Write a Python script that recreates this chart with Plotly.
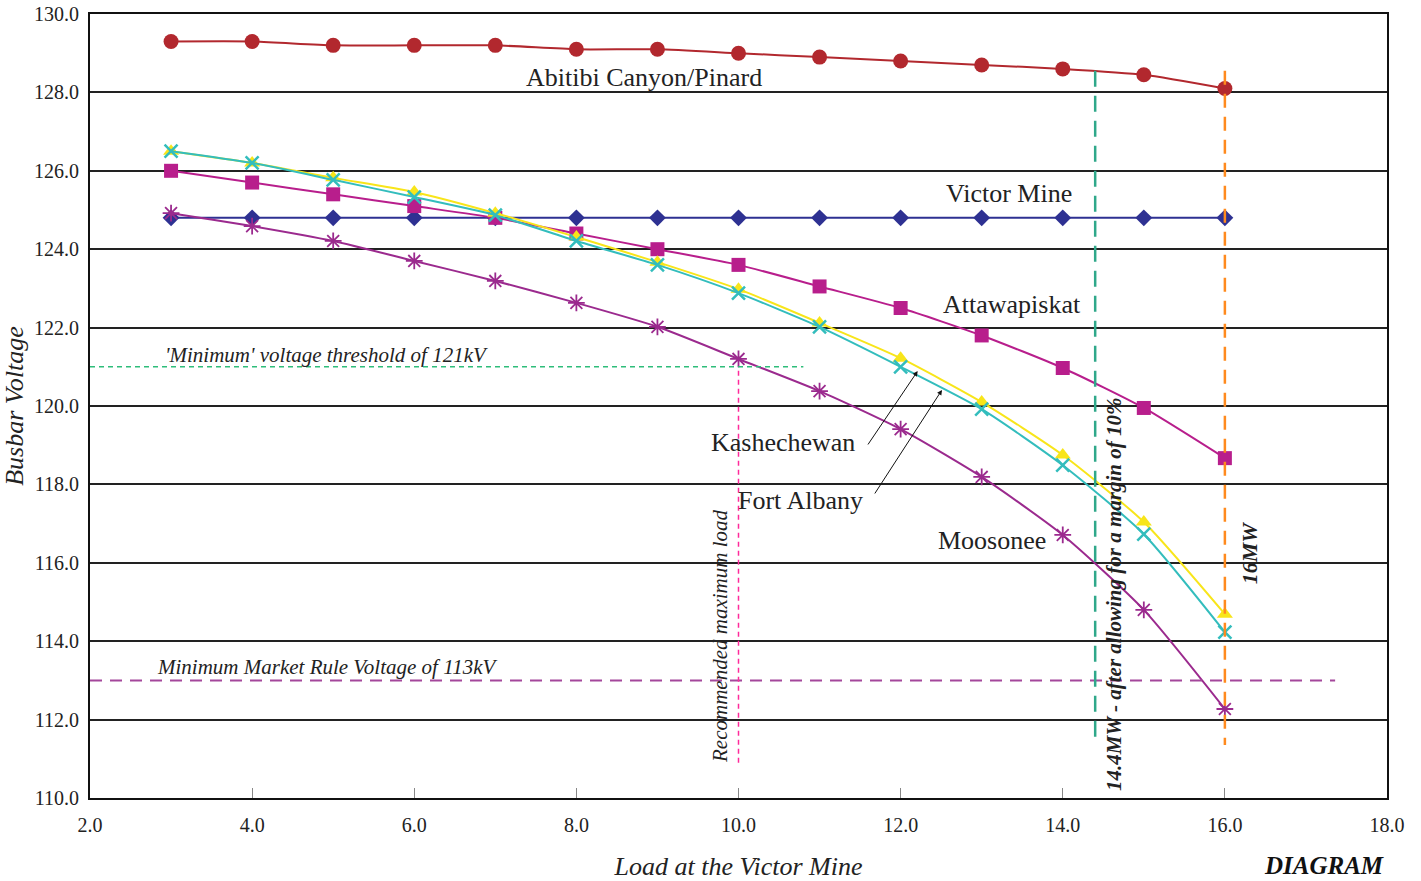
import plotly.graph_objects as go

load_mw = [3, 4, 5, 6, 7, 8, 9, 10, 11, 12, 13, 14, 15, 16]
abitibi = [129.3, 129.3, 129.2, 129.2, 129.2, 129.1, 129.1, 129.0, 128.9, 128.8, 128.7, 128.6, 128.45, 128.1]
victor = [124.8] * 14
attawapiskat = [126.0, 125.7, 125.4, 125.1, 124.8, 124.4, 124.0, 123.6, 123.05, 122.5, 121.8, 120.97, 119.95, 118.67]
kashechewan = [126.5, 126.2, 125.82, 125.46, 124.92, 124.31, 123.67, 122.98, 122.12, 121.22, 120.1, 118.75, 117.04, 114.69]
fort_albany = [126.5, 126.2, 125.77, 125.33, 124.87, 124.21, 123.6, 122.88, 122.02, 121.0, 119.92, 118.49, 116.73, 114.23]
moosonee = [124.92, 124.59, 124.21, 123.7, 123.19, 122.63, 122.02, 121.2, 120.38, 119.41, 118.19, 116.71, 114.8, 112.27]

x_ticks = [2, 4, 6, 8, 10, 12, 14, 16, 18]
y_ticks = [110, 112, 114, 116, 118, 120, 122, 124, 126, 128, 130]

FONT = "Liberation Serif"

series = [
    (abitibi, "Abitibi Canyon/Pinard", "#b2282e", "circle", 15, 0),
    (victor, "Victor Mine", "#2e3192", "diamond", 13, 0),
    (attawapiskat, "Attawapiskat", "#b81e8c", "square", 14, 0),
    (kashechewan, "Kashechewan", "#f8e51a", "triangle-up", 14, 0),
    (fort_albany, "Fort Albany", "#33bdbd", "x-thin-open", 13, 2.5),
    (moosonee, "Moosonee", "#9b2a8e", "asterisk-open", 14, 1.8),
]

fig = go.Figure()
for ys, name, color, sym, size, lw in series:
    marker = dict(symbol=sym, size=size, color=color)
    if lw:
        marker["line"] = dict(color=color, width=lw)
    fig.add_trace(go.Scatter(
        x=load_mw, y=ys, name=name, mode="lines+markers",
        line=dict(color=color, width=2, shape="spline", smoothing=0.6),
        marker=marker, showlegend=False,
    ))

shapes = [
    dict(type="line", x0=2, x1=10.8, y0=121, y1=121, line=dict(color="#2ebd7a", width=1.5, dash="5px,4px")),
    dict(type="line", x0=2, x1=17.36, y0=113, y1=113, line=dict(color="#a4479b", width=2, dash="12px,8px")),
    dict(type="line", x0=10, x1=10, y0=120.9, y1=110.8, line=dict(color="#ff2a9a", width=1.5, dash="5px,4px")),
    dict(type="line", x0=14.4, x1=14.4, y0=128.55, y1=111.35, line=dict(color="#2fa88a", width=2.5, dash="16px,9px")),
    dict(type="line", x0=16, x1=16, y0=128.55, y1=111.35, line=dict(color="#ff8a1e", width=2.5, dash="14px,9px")),
]

ann = []
def label(x, y, text, size=26, **kw):
    d = dict(x=x, y=y, text=text, showarrow=False, xref="x", yref="y",
             font=dict(family=FONT, size=size, color="#222"))
    d.update(kw)
    ann.append(d)

label(8.83, 128.39, "Abitibi Canyon/Pinard")
label(13.34, 125.43, "Victor Mine")
label(13.37, 122.58, "Attawapiskat")
label(10.55, 119.06, "Kashechewan")
label(10.77, 117.58, "Fort Albany")
label(13.13, 116.58, "Moosonee")
label(2.9, 121.3, "<i>'Minimum' voltage threshold of 121kV</i>", size=21, xanchor="left")
label(2.8, 113.35, "<i>Minimum Market Rule Voltage of 113kV</i>", size=21, xanchor="left")
label(9.77, 114.13, "<i>Recommended maximum load</i>", size=21, textangle=-90)
label(14.63, 115.2, "<b><i>14.4MW - after allowing for a margin of 10%</i></b>", size=21, textangle=-90)
label(16.3, 116.25, "<b><i>16MW</i></b>", size=22, textangle=-90)

# arrows from labels to curves
ann.append(dict(x=12.21, y=120.89, ax=11.585, ay=118.98, xref="x", yref="y", axref="x", ayref="y",
                showarrow=True, arrowhead=2, arrowsize=1, arrowwidth=1, arrowcolor="#111", text=""))
ann.append(dict(x=12.51, y=120.41, ax=11.67, ay=117.73, xref="x", yref="y", axref="x", ayref="y",
                showarrow=True, arrowhead=2, arrowsize=1, arrowwidth=1, arrowcolor="#111", text=""))

ann.append(dict(x=0.9036, y=-0.1055, xref="paper", yref="paper", xanchor="left", yanchor="bottom",
                text="<b><i>DIAGRAM</i></b>", showarrow=False,
                font=dict(family=FONT, size=25, color="#111")))

fig.update_layout(
    width=1421, height=881,
    margin=dict(l=90, r=34, t=14, b=83, autoexpand=False),
    paper_bgcolor="white", plot_bgcolor="white",
    font=dict(family=FONT, size=20, color="#222"),
    shapes=shapes, annotations=ann,
    xaxis=dict(range=[2, 18], tickvals=x_ticks, ticktext=[f"{v:.1f}" for v in x_ticks],
               showgrid=False, zeroline=False, showline=True, linecolor="#111", linewidth=2, mirror=True,
               ticks="inside", ticklen=10, tickcolor="#888", tickwidth=1, automargin=False,
               ticklabelstandoff=8,
               title=dict(text="<i>Load at the Victor Mine</i>", font=dict(size=26), standoff=23)),
    yaxis=dict(range=[110, 130], tickvals=y_ticks, ticktext=[f"{v:.1f}" for v in y_ticks],
               showgrid=True, gridcolor="#222", gridwidth=2, zeroline=False, automargin=False,
               showline=True, linecolor="#111", linewidth=2, mirror=True, ticks="",
               ticklabelstandoff=5,
               title=dict(text="<i>Busbar Voltage</i>", font=dict(size=26), standoff=8)),
)

fig.write_html("out.html")
